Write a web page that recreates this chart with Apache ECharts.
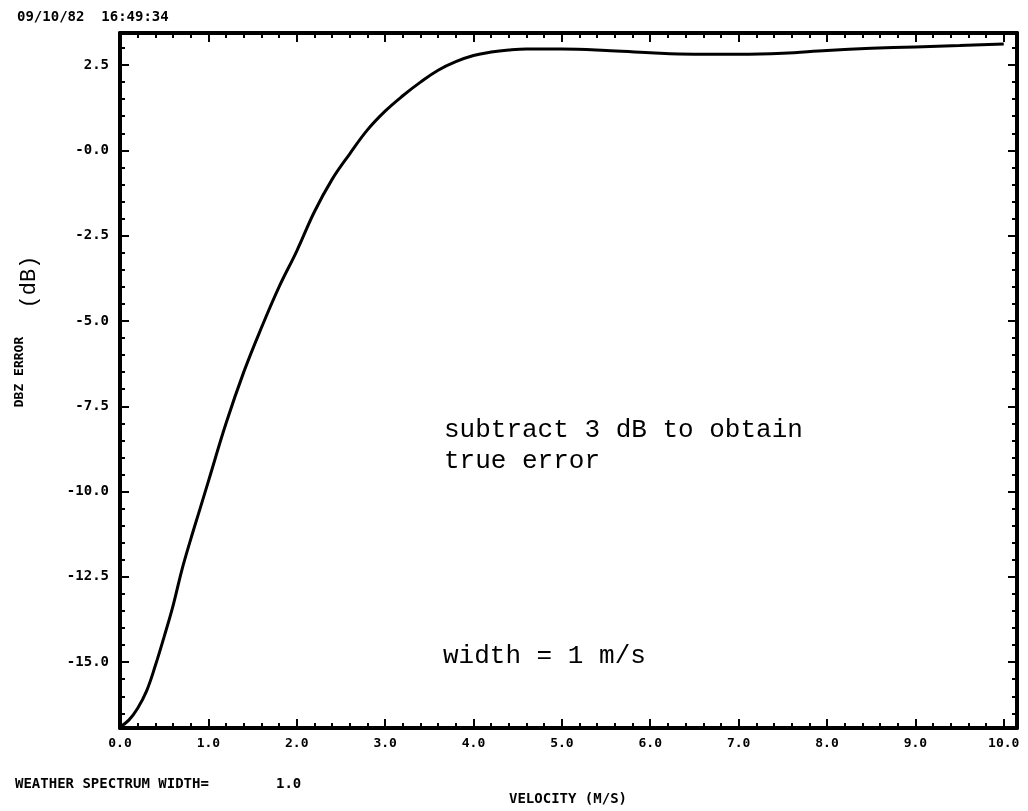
<!DOCTYPE html>
<html><head><meta charset="utf-8">
<script src="https://cdn.jsdelivr.net/npm/echarts@6/dist/echarts.min.js"></script>
<style>html,body{margin:0;padding:0;background:#fff}#c{width:1028px;height:811px}</style>
</head><body><div id="c"></div>
<script>
const velocity = [0, 0.1, 0.2, 0.3, 0.4, 0.5, 0.6, 0.7, 0.8, 0.9, 1.0, 1.2, 1.4, 1.6, 1.8, 2.0, 2.2, 2.4, 2.6, 2.8, 3.0, 3.2, 3.4, 3.6, 3.8, 4.0, 4.2, 4.4, 4.6, 5.0, 5.5, 6.0, 6.5, 7.0, 7.5, 8.0, 8.5, 9.0, 9.5, 10.0];
const dbzError = [-16.9, -16.7, -16.35, -15.85, -15.1, -14.25, -13.35, -12.3, -11.4, -10.55, -9.7, -8.0, -6.5, -5.2, -4.0, -2.95, -1.8, -0.85, -0.1, 0.6, 1.15, 1.6, 2.0, 2.35, 2.6, 2.78, 2.88, 2.94, 2.97, 2.97, 2.93, 2.86, 2.82, 2.82, 2.85, 2.93, 2.99, 3.03, 3.07, 3.12];

const xTickValues = [0, 1, 2, 3, 4, 5, 6, 7, 8, 9, 10];
const xTickLabels = ['0.0', '1.0', '2.0', '3.0', '4.0', '5.0', '6.0', '7.0', '8.0', '9.0', '10.0'];
const yTickValues = [2.5, 0, -2.5, -5, -7.5, -10, -12.5, -15];
const yTickLabels = ['2.5', '-0.0', '-2.5', '-5.0', '-7.5', '-10.0', '-12.5', '-15.0'];

const X_MIN = 0, X_MAX = 10.15, Y_MIN = -16.93, Y_MAX = 3.44;

const xMinorValues = [];
for (let i = 0; i <= 50; i++) xMinorValues.push(Math.round(i * 2) / 10);
const yMinorValues = [];
for (let i = 0; i <= 40; i++) { const v = 3.0 - i * 0.5; if (v > Y_MIN) yMinorValues.push(v); }

const MONO_B = 'bold 14px "DejaVu Sans Mono"';
const TYPE = '26px "Liberation Mono"';

function xAxisDef(pos, major) {
  return {
    type: 'value', min: X_MIN, max: X_MAX, position: pos, gridIndex: 0,
    axisLine: { show: major, onZero: false, lineStyle: { color: '#000', width: 4 } },
    axisTick: { show: true, inside: true, length: major ? 9 : 5, customValues: major ? xTickValues : xMinorValues, lineStyle: { color: '#000', width: 2 } },
    axisLabel: (major && pos === 'bottom') ? {
      show: true, customValues: xTickValues, margin: 9, color: '#000',
      fontFamily: 'DejaVu Sans Mono', fontWeight: 'bold', fontSize: 13,
      formatter: v => { const i = xTickValues.indexOf(v); return i >= 0 ? xTickLabels[i] : ''; }
    } : { show: false },
    splitLine: { show: false }
  };
}
function yAxisDef(pos, major) {
  return {
    type: 'value', min: Y_MIN, max: Y_MAX, position: pos, gridIndex: 0,
    axisLine: { show: major, onZero: false, lineStyle: { color: '#000', width: 4 } },
    axisTick: { show: true, inside: true, length: major ? 9 : 5, customValues: major ? yTickValues : yMinorValues, lineStyle: { color: '#000', width: 2 } },
    axisLabel: (major && pos === 'left') ? {
      show: true, customValues: yTickValues, margin: 11, color: '#000',
      fontFamily: 'DejaVu Sans Mono', fontWeight: 'bold', fontSize: 14,
      formatter: v => { const i = yTickValues.indexOf(v); return i >= 0 ? yTickLabels[i] : ''; }
    } : { show: false },
    splitLine: { show: false }
  };
}

function txt(text, x, y, font, align, rot) {
  return { type: 'text', x: x, y: y, rotation: rot || 0, silent: true,
    style: { text: text, font: font, fill: '#000', align: align, textAlign: align, verticalAlign: 'middle', textVerticalAlign: 'middle' } };
}

const chart = echarts.init(document.getElementById('c'), null, { renderer: 'canvas' });
chart.setOption({
  animation: false,
  backgroundColor: '#fff',
  grid: { left: 120, right: 11, top: 33, bottom: 83, containLabel: false },
  xAxis: [xAxisDef('bottom', true), xAxisDef('bottom', false), xAxisDef('top', true), xAxisDef('top', false)],
  yAxis: [yAxisDef('left', true), yAxisDef('left', false), yAxisDef('right', true), yAxisDef('right', false)],
  series: [{
    type: 'line', xAxisIndex: 0, yAxisIndex: 0,
    data: velocity.map((v, i) => [v, dbzError[i]]),
    showSymbol: false, symbol: 'none', smooth: 0.4,
    lineStyle: { color: '#000', width: 3 }
  }],
  graphic: [
    txt('09/10/82  16:49:34', 17, 17, MONO_B, 'left'),
    txt('WEATHER SPECTRUM WIDTH=', 15, 784, MONO_B, 'left'),
    txt('1.0', 276, 784, MONO_B, 'left'),
    txt('VELOCITY (M/S)', 568, 799, MONO_B, 'center'),
    txt('DBZ ERROR', 20, 372, 'bold 13px "DejaVu Sans Mono"', 'center', Math.PI / 2),
    txt('(dB)', 29, 282, '22px "Liberation Mono"', 'center', Math.PI / 2),
    txt('subtract 3 dB to obtain', 444, 430, TYPE, 'left'),
    txt('true error', 444, 461, TYPE, 'left'),
    txt('width = 1 m/s', 443, 656, TYPE, 'left')
  ]
});
</script></body></html>
